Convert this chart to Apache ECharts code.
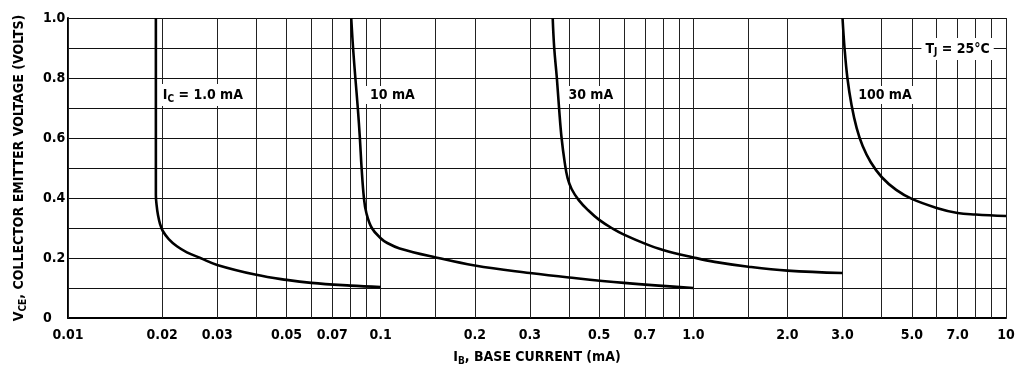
<!DOCTYPE html>
<html>
<head>
<meta charset="utf-8">
<script src="https://cdn.jsdelivr.net/npm/echarts@6/dist/echarts.min.js"></script>
<style>
  html, body { margin: 0; padding: 0; background: #fff; }
  #chart { width: 1032px; height: 376px; }
</style>
</head>
<body>
<div id="chart"></div>
<script>
// curves: [IB (mA), VCE (V)]
var ic1 = [[0.0191, 1.0], [0.0191, 0.6], [0.0191, 0.41], [0.0192, 0.377], [0.0194, 0.343], [0.0197, 0.313],
  [0.0201, 0.29], [0.021, 0.263], [0.0223, 0.239], [0.024, 0.219], [0.0265, 0.2], [0.03, 0.177],
  [0.04, 0.144], [0.05, 0.127], [0.06, 0.117], [0.08, 0.108], [0.1, 0.103]];
var ic10 = [[0.0805, 1.0], [0.0816, 0.9], [0.083, 0.8], [0.0845, 0.7], [0.0858, 0.6], [0.0869, 0.5],
  [0.0884, 0.4], [0.09, 0.35], [0.0937, 0.30], [0.1, 0.266], [0.105, 0.25], [0.115, 0.232],
  [0.15, 0.202], [0.2, 0.175], [0.3, 0.15], [0.4, 0.135], [0.6, 0.117], [1.0, 0.10]];
var ic30 = [[0.355, 1.0], [0.359, 0.9], [0.366, 0.8], [0.372, 0.7], [0.379, 0.6], [0.388, 0.517],
  [0.396, 0.467], [0.408, 0.43], [0.43, 0.393], [0.46, 0.36], [0.5, 0.327], [0.554, 0.297],
  [0.6, 0.278], [0.7, 0.248], [0.8, 0.227], [1.0, 0.202], [1.17, 0.187], [1.5, 0.171],
  [2.0, 0.158], [3.0, 0.15]];
var ic100 = [[3.0, 1.0], [3.045, 0.9], [3.11, 0.8], [3.206, 0.71], [3.33, 0.633], [3.48, 0.573],
  [3.69, 0.52], [4.0, 0.47], [4.455, 0.427], [5.0, 0.397], [6.0, 0.367], [7.0, 0.35],
  [8.0, 0.345], [10, 0.34]];

// log grid lines and the labelled ones
var gridX = [0.01, 0.015, 0.02, 0.03, 0.04, 0.05, 0.06, 0.07, 0.08, 0.09,
  0.1, 0.15, 0.2, 0.3, 0.4, 0.5, 0.6, 0.7, 0.8, 0.9,
  1, 1.5, 2, 3, 4, 5, 6, 7, 8, 9, 10];
var tickValues = [0.01, 0.02, 0.03, 0.05, 0.07, 0.1, 0.2, 0.3, 0.5, 0.7, 1, 2, 3, 5, 7, 10];
var tickLabels = ['0.01', '0.02', '0.03', '0.05', '0.07', '0.1', '0.2', '0.3', '0.5', '0.7',
  '1.0', '2.0', '3.0', '5.0', '7.0', '10'];

// curve labels
var noteText = ['{n|I}{s|C}{n| = 1.0 mA}', '{n|10 mA}', '{n|30 mA}', '{n|100 mA}', '{n|T}{s|J}{n| = 25°C}'];
var noteX = [0.027, 0.109, 0.47, 4.1, 7.0];
var noteY = [0.743, 0.743, 0.743, 0.743, 0.897];

var FONT = "'DejaVu Sans Condensed', 'Liberation Sans', sans-serif";
var rich = {
  n: { fontFamily: FONT, fontSize: 14, fontWeight: 'bold', color: '#000' },
  s: { fontFamily: FONT, fontSize: 10, fontWeight: 'bold', color: '#000', padding: [8, 0, 0, 0] }
};

var myChart = echarts.init(document.getElementById('chart'), null, { renderer: 'canvas' });

var gridLines = [];
for (var i = 0; i < gridX.length; i++) {
  var k = tickValues.indexOf(gridX[i]);
  gridLines.push({
    xAxis: gridX[i],
    label: { show: k >= 0, formatter: k >= 0 ? tickLabels[k] : '' }
  });
}

var notes = [];
for (var j = 0; j < noteText.length; j++) {
  notes.push({ coord: [noteX[j], noteY[j]], label: { formatter: noteText[j] } });
}

function curve(name, data) {
  return {
    name: name,
    type: 'line',
    data: data,
    smooth: 0.4,
    showSymbol: false,
    z: 5,
    lineStyle: { color: '#000', width: 2.6 }
  };
}

var option = {
  animation: false,
  grid: { left: 68, right: 26, top: 18, bottom: 58 },
  xAxis: {
    type: 'log',
    logBase: 10,
    min: 0.01,
    max: 10,
    name: '{n|I}{s|B}{n|, BASE CURRENT (mA)}',
    nameLocation: 'middle',
    nameGap: 30,
    nameTextStyle: { rich: rich },
    axisLine: { lineStyle: { color: '#000', width: 2 } },
    axisTick: { show: false },
    axisLabel: { show: false },
    splitLine: { show: false }
  },
  yAxis: {
    type: 'value',
    min: 0,
    max: 1,
    interval: 0.1,
    name: '{n|V}{s|CE}{n|, COLLECTOR EMITTER VOLTAGE (VOLTS)}',
    nameLocation: 'middle',
    nameGap: 40,
    nameTextStyle: { rich: rich },
    axisLine: { show: true, lineStyle: { color: '#000', width: 2 } },
    axisTick: { show: false },
    axisLabel: {
      align: 'left',
      margin: 25,
      color: '#000',
      fontFamily: FONT,
      fontSize: 14,
      fontWeight: 'bold',
      formatter: function (v) {
        var t = Math.round(v * 10);
        if (t % 2 !== 0) return '';
        return t === 0 ? '0' : v.toFixed(1);
      }
    },
    splitLine: { show: true, lineStyle: { color: '#111', width: 1 } }
  },
  series: [
    {
      name: 'grid',
      type: 'line',
      data: [],
      silent: true,
      z: 1,
      markLine: {
        silent: true,
        symbol: ['none', 'none'],
        z: 1,
        lineStyle: { color: '#222', width: 1, type: 'solid' },
        label: {
          position: 'start',
          distance: 10,
          color: '#000',
          fontFamily: FONT,
          fontSize: 14,
          fontWeight: 'bold'
        },
        data: gridLines
      },
      markPoint: {
        silent: true,
        symbol: 'circle',
        symbolSize: 0,
        z: 10,
        label: {
          show: true,
          position: 'inside',
          backgroundColor: '#fff',
          padding: [2, 4],
          rich: rich
        },
        data: notes
      }
    },
    curve('1.0 mA', ic1),
    curve('10 mA', ic10),
    curve('30 mA', ic30),
    curve('100 mA', ic100)
  ]
};
myChart.setOption(option);
</script>
</body>
</html>
